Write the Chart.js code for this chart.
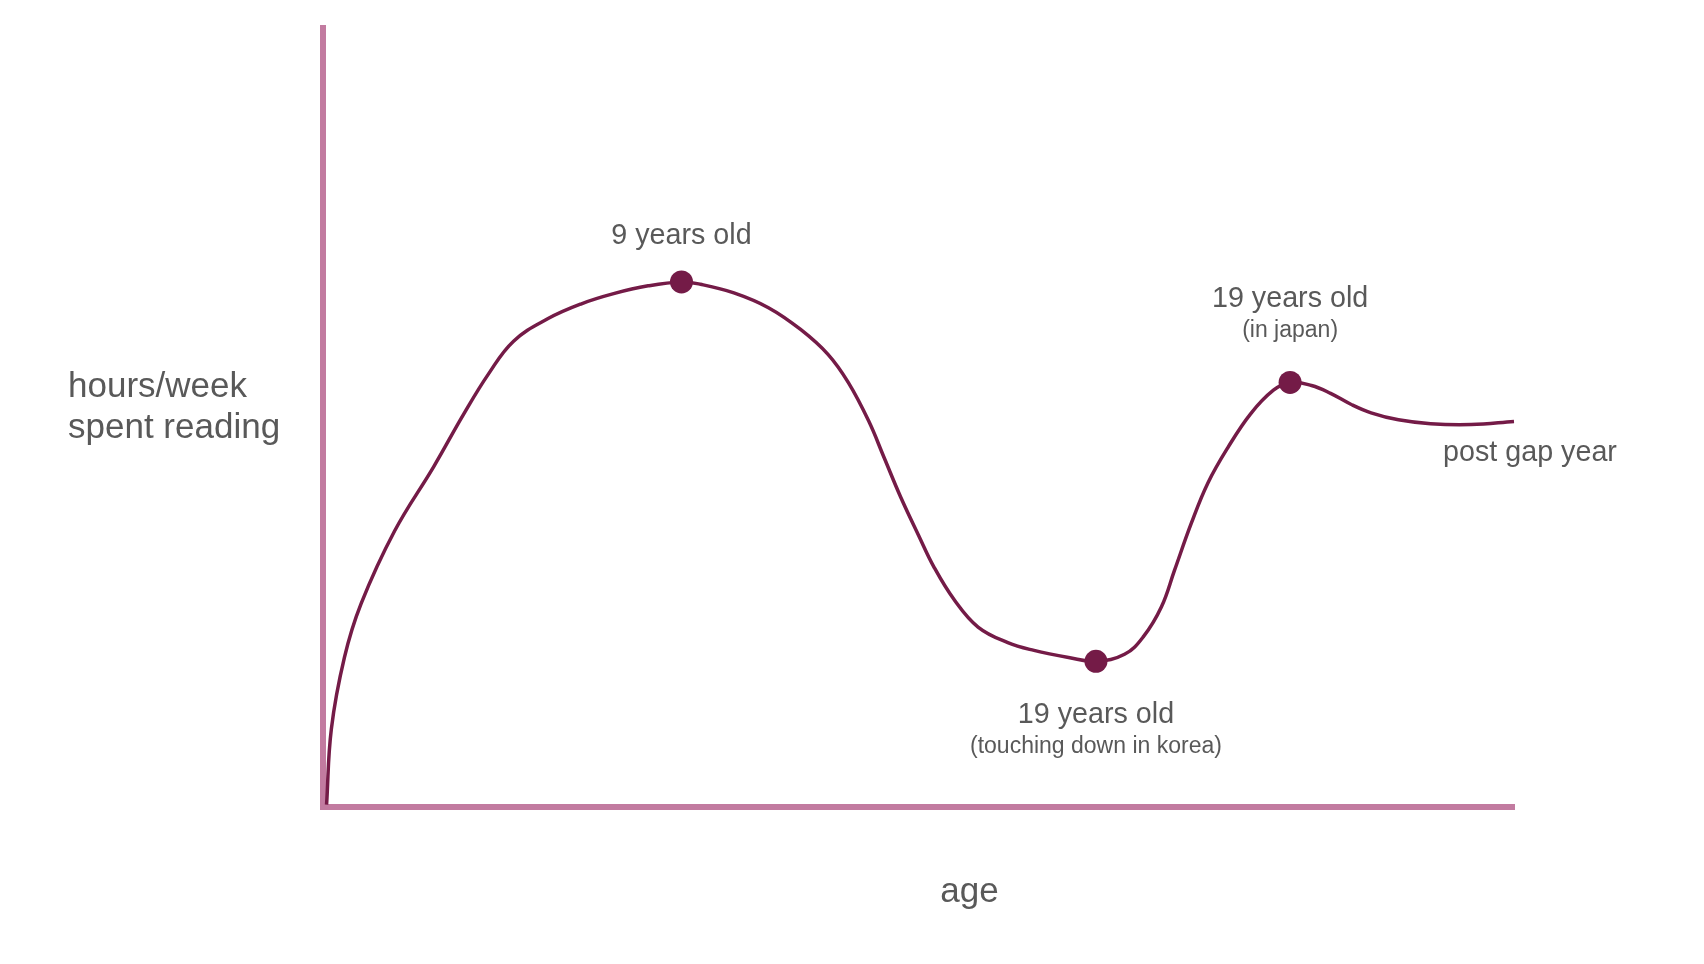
<!DOCTYPE html>
<html>
<head>
<meta charset="utf-8">
<title>hours/week spent reading</title>
<script src="https://cdn.jsdelivr.net/npm/chart.js@4.4.0/dist/chart.umd.min.js"></script>
<style>
  body { margin: 0; background: #fff; }
  #ReadingChart { display: block; }
</style>
</head>
<body>
<canvas id="ReadingChart" width="1704" height="964"></canvas>
<script>
  // curve (age axis 0-100, hours axis 0-100)
  const ageX = [0.3, 0.7, 1.8, 3.2, 6.0, 9.3, 11.8, 13.9, 16.0, 18.9, 21.7, 24.4, 27.3,
    30.1, 31.7, 34.5, 37.4, 40.1, 42.4, 44.1, 45.8, 47.1, 48.5, 50.0, 51.3, 53.0, 55.0, 57.5, 59.7,
    62.6, 64.9, 67.3, 68.9, 70.4, 71.5, 72.9, 74.3, 76.0, 77.9, 79.8, 81.2, 83.0, 84.6, 86.3, 88.0,
    90.3, 93.0, 96.4, 100];
  const hoursY = [0.3, 10.0, 19.2, 26.1, 35.4, 43.7, 50.4, 55.6, 59.8, 62.7, 64.6, 65.9, 66.9,
    67.4, 67.1, 66.0, 64.1, 61.3, 58.1, 54.5, 49.6, 44.9, 39.8, 34.9, 30.8, 26.6, 23.1, 21.1, 20.1,
    19.2, 18.7, 19.6, 21.9, 25.7, 30.4, 36.4, 41.6, 46.2, 50.5, 53.5, 54.5, 54.1, 53.1, 51.7, 50.6,
    49.7, 49.2, 49.1, 49.5];

  // marked moments
  const markX = [30.1, 64.9, 81.2];
  const markY = [67.4, 18.7, 54.5];
  const markTitle = ['9 years old', '19 years old', '19 years old'];
  const markNote = ['', '(touching down in korea)', '(in japan)'];
  const markBelow = [false, true, false];

  const endLabel = 'post gap year';
  const yTitle = ['hours/week', 'spent reading'];
  const xTitle = 'age';

  const lineColor = '#741b47';
  const axisColor = '#c27ba0';
  const textColor = '#595959';
  const fontFamily = '"Liberation Sans", Arial, sans-serif';

  const curve = ageX.map((x, i) => ({ x: x, y: hoursY[i] }));
  const marks = markX.map((x, i) => ({ x: x, y: markY[i] }));

  // texts around the plot
  const labelPlugin = {
    id: 'labels',
    afterDraw(chart) {
      const ctx = chart.ctx;
      const xs = chart.scales.x;
      const ys = chart.scales.y;
      const area = chart.chartArea;
      ctx.save();
      ctx.fillStyle = textColor;
      ctx.textBaseline = 'middle';

      // marker labels
      ctx.textAlign = 'center';
      marks.forEach((p, i) => {
        const px = xs.getPixelForValue(p.x);
        const py = ys.getPixelForValue(p.y);
        if (markBelow[i]) {
          ctx.font = '28.7px ' + fontFamily;
          ctx.fillText(markTitle[i], px, py + 54);
          ctx.font = '23px ' + fontFamily;
          ctx.fillText(markNote[i], px, py + 85);
        } else if (markNote[i]) {
          ctx.font = '28.7px ' + fontFamily;
          ctx.fillText(markTitle[i], px, py - 83);
          ctx.font = '23px ' + fontFamily;
          ctx.fillText(markNote[i], px, py - 52);
        } else {
          ctx.font = '28.7px ' + fontFamily;
          ctx.fillText(markTitle[i], px, py - 46);
        }
      });

      // end of curve
      const last = curve[curve.length - 1];
      ctx.font = '28.7px ' + fontFamily;
      ctx.fillText(endLabel, xs.getPixelForValue(last.x) + 16, ys.getPixelForValue(last.y) + 32);

      // axis titles
      ctx.font = '35px ' + fontFamily;
      ctx.textAlign = 'left';
      ctx.fillText(yTitle[0], 68, 387);
      ctx.fillText(yTitle[1], 68, 428);
      ctx.textAlign = 'center';
      ctx.fillText(xTitle, (area.left + area.right) / 2 + 51, area.bottom + 85);
      ctx.restore();
    }
  };

  //config
  const ReadingConfig = {
    type: 'scatter',
    data: {
      datasets: [
        {
          label: 'marks',
          data: marks,
          showLine: false,
          pointRadius: 11.5,
          pointHoverRadius: 11.5,
          pointBackgroundColor: lineColor,
          pointBorderWidth: 0,
          clip: false
        },
        {
          label: 'reading',
          data: curve,
          showLine: true,
          borderColor: lineColor,
          borderWidth: 3.5,
          pointRadius: 0,
          tension: 0.4,
          clip: false
        }
      ]
    },
    options: {
      responsive: false,
      devicePixelRatio: 1,
      animation: false,
      layout: { padding: { left: 315, right: 190, top: 28, bottom: 149 } },
      plugins: {
        legend: { display: false },
        tooltip: { enabled: false }
      },
      scales: {
        x: {
          type: 'linear',
          min: 0,
          max: 100,
          grid: { display: false },
          ticks: { display: false },
          border: { display: true, color: axisColor, width: 6 }
        },
        y: {
          type: 'linear',
          min: 0,
          max: 100,
          grid: { display: false },
          ticks: { display: false },
          border: { display: true, color: axisColor, width: 6 }
        }
      }
    },
    plugins: [labelPlugin]
  };

  //View
  const ReadingChart = new Chart(
    document.getElementById('ReadingChart'),
    ReadingConfig
  );
</script>
</body>
</html>
